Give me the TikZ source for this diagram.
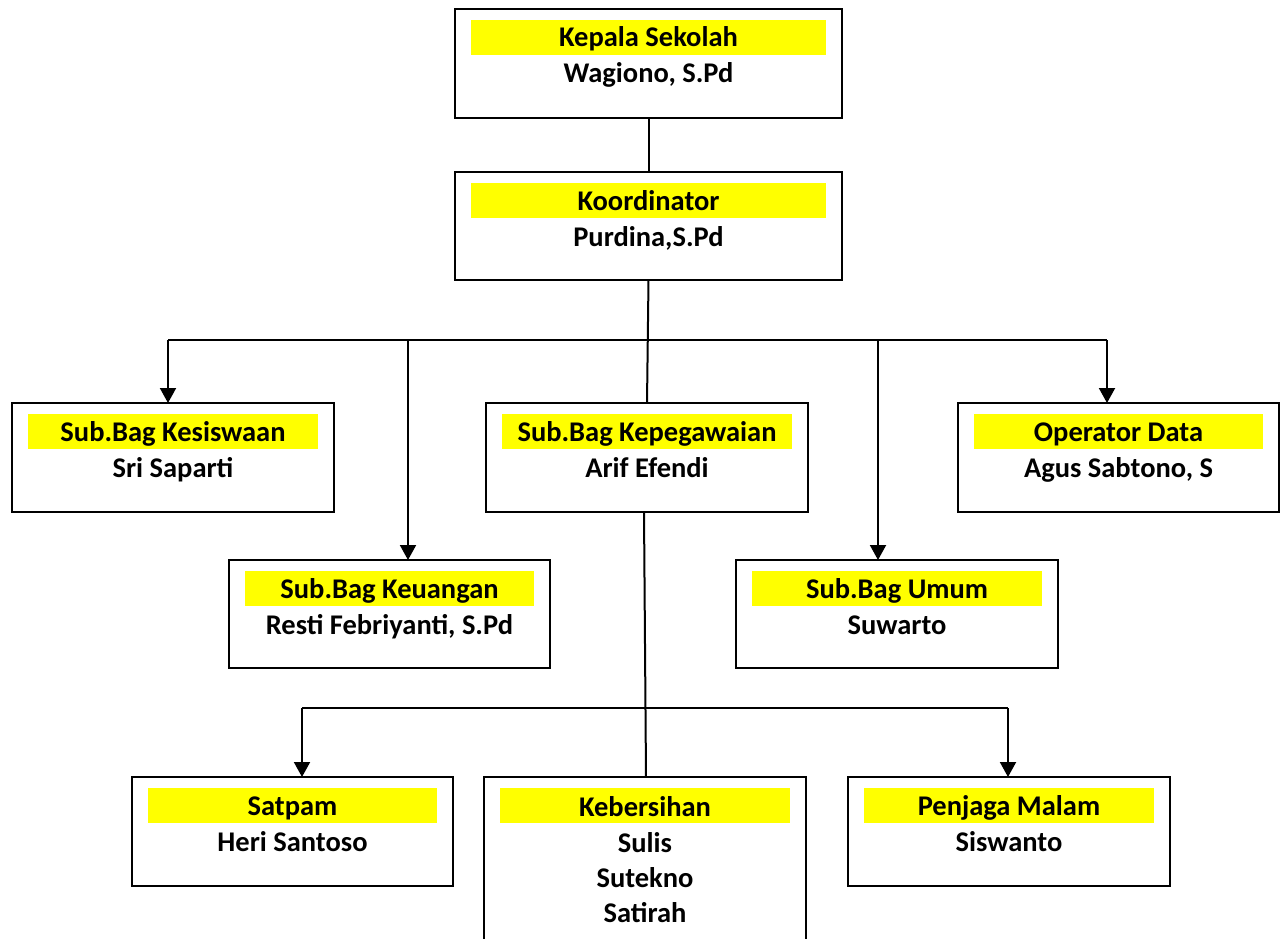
\documentclass[tikz,border=0pt]{standalone}
\usepackage{fontspec}
\setmainfont{Carlito}
\usetikzlibrary{arrows.meta}
\definecolor{baryellow}{RGB}{255,255,0}
\tikzset{
  orgbox/.style={draw=black, line width=2pt, fill=white, inner sep=0pt, outer sep=0pt, anchor=north west},
  titlebar/.style={fill=baryellow, draw=none, inner sep=0pt, outer sep=0pt, anchor=north west},
  lbl/.style={anchor=base, inner sep=0pt, font=\fontsize{28.5}{35}\selectfont\bfseries},
  conn/.style={line width=2pt},
  arr/.style={line width=2pt, -{Triangle[width=16pt,length=15pt]}}
}
\newcommand\orgunit[7]{%
  \node[orgbox, minimum width={#4-#2}, minimum height={#5-#3}] (#1) at (#2,#3) {};
  \node[titlebar, minimum width={#4-#2-32}, minimum height=35pt] (#1bar) at (#2+16,#3+11) {};
  \node[lbl] (#1t) at ({(#2+#4)/2},#3+38) {#6};
  \node[lbl] (#1n) at ({(#2+#4)/2},#3+74) {#7};
}
\begin{document}
\begin{tikzpicture}[x=1pt,y=-1pt]
\useasboundingbox (0,0) rectangle (1280,939);

\orgunit{ks}{455}{9}{842}{118}{Kepala Sekolah}{Wagiono, S.Pd}
\orgunit{ko}{455}{172}{842}{280}{Koordinator}{Purdina,S.Pd}

\orgunit{ksw}{12}{403}{334}{512}{Sub.Bag Kesiswaan}{Sri Saparti}
\orgunit{kpg}{486}{403}{808}{512}{Sub.Bag Kepegawaian}{Arif Efendi}
\orgunit{opd}{958}{403}{1279}{512}{Operator Data}{Agus Sabtono, S}

\orgunit{keu}{229}{560}{550}{668}{Sub.Bag Keuangan}{Resti Febriyanti, S.Pd}
\orgunit{umm}{736}{560}{1058}{668}{Sub.Bag Umum}{Suwarto}

\orgunit{stp}{132}{777}{453}{886}{Satpam}{Heri Santoso}
\orgunit{pjm}{848}{777}{1170}{886}{Penjaga Malam}{Siswanto}

% Kebersihan (extends below the page)
\node[orgbox, minimum width=322pt, minimum height=200pt] (kbr) at (484,777) {};
\node[titlebar, minimum width=290pt, minimum height=35pt] (kbrbar) at (500,788) {};
\node[lbl] (kbrt) at (645,816) {Kebersihan};
\node[lbl] (kbr1) at (645,852) {Sulis};
\node[lbl] (kbr2) at (645,887) {Sutekno};
\node[lbl] (kbr3) at (645,922) {Satirah};

% connectors
\draw[conn] (ks.south) -- (ko.north);
\draw[conn] (ko.south) -- (kpg.north);

\coordinate (b1) at (168,340);
\coordinate (b2) at (408,340);
\coordinate (b3) at (878,340);
\coordinate (b4) at (1107,340);
\draw[conn] (b1) -- (b4);
\draw[arr] (b1) -- (b1 |- ksw.north);
\draw[arr] (b2) -- (b2 |- keu.north);
\draw[arr] (b3) -- (b3 |- umm.north);
\draw[arr] (b4) -- (b4 |- opd.north);

\coordinate (kpgb) at (644,512);
\coordinate (kbrt0) at (646,777);
\draw[conn] (kpgb) -- (kbrt0);

\coordinate (c1) at (302,708);
\coordinate (c2) at (1008,708);
\draw[conn] (c1) -- (c2);
\draw[arr] (c1) -- (c1 |- stp.north);
\draw[arr] (c2) -- (c2 |- pjm.north);
\end{tikzpicture}
\end{document}
